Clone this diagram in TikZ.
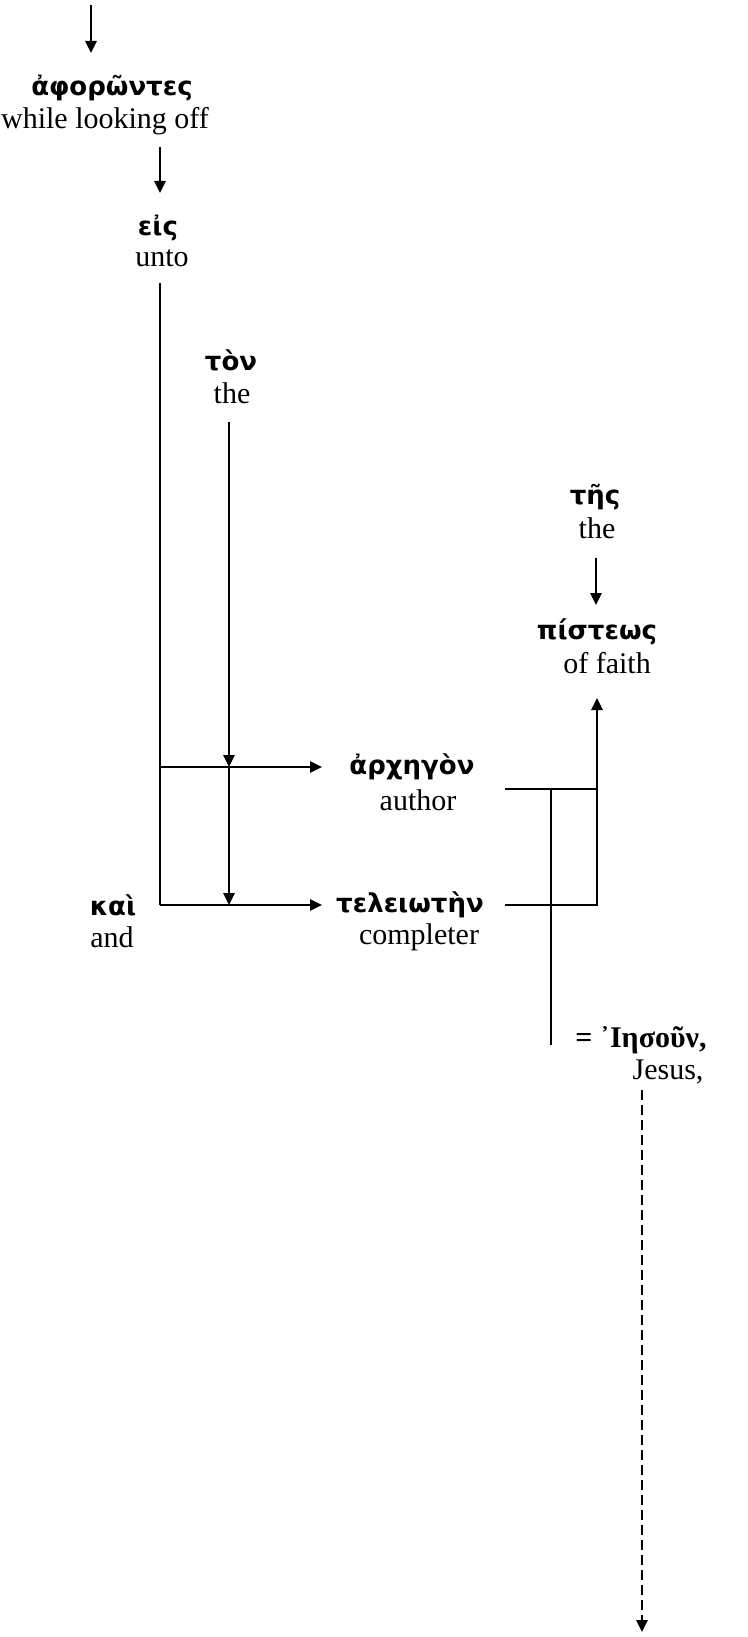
\documentclass[tikz,border=0pt]{standalone}
\usepackage{fontspec}
\setmainfont{Liberation Serif}
\newfontfamily\gkfont{DejaVu Sans}
\usetikzlibrary{arrows.meta}
\begin{document}
\begin{tikzpicture}[x=1pt,y=-1pt,
  gk/.style={font=\gkfont\bfseries\fontsize{26}{30}\selectfont, inner sep=0pt},
  gks/.style={font=\bfseries\fontsize{30}{34}\selectfont, inner sep=0pt},
  en/.style={font=\fontsize{30}{34}\selectfont, inner sep=0pt},
  ln/.style={line width=2.6pt},
  arr/.style={ln,-{Triangle[length=12pt,width=11pt]}},
  dsh/.style={arr,dash pattern=on 10pt off 5pt}]
\useasboundingbox (0,0) rectangle (747,1637);
% words
\node[gk] (aphor) at (112,88) {ἀφορῶντες};
\node[en] (aphorE) at (105,121) {while looking off};
\node[gk] (eis) at (158,228) {εἰς};
\node[en] (eisE) at (162,258) {unto};
\node[gk] (ton) at (231,360) {τὸν};
\node[en] (tonE) at (232,393) {the};
\node[gk] (tes) at (595,497) {τῆς};
\node[en] (tesE) at (597,528) {the};
\node[gk] (pist) at (597,632) {πίστεως};
\node[en] (pistE) at (607,663) {of faith};
\node[gk] (arch) at (412,767) {ἀρχηγὸν};
\node[en] (archE) at (418,800) {author};
\node[gk] (kai) at (113,905) {καὶ};
\node[en] (kaiE) at (112,937) {and};
\node[gk] (tel) at (410,905) {τελειωτὴν};
\node[en] (telE) at (419,937) {completer};
\node[gks] (ies) at (641,1040) {= ᾿Ιησοῦν,};
\node[en] (iesE) at (668,1072) {Jesus,};
% connector points
\coordinate (a0) at (91,5);
\coordinate (a1) at (91,53);
\coordinate (b0) at (160,147);
\coordinate (b1) at (160,193);
\coordinate (v0) at (160,283);
\coordinate (j1) at (160,767);
\coordinate (j2) at (160,905);
\coordinate (h1) at (322,767);
\coordinate (h2) at (322,905);
\coordinate (t0) at (229,422);
\coordinate (t1) at (229,767);
\coordinate (t2) at (229,905);
\coordinate (s0) at (596,558);
\coordinate (s1) at (596,605);
\coordinate (r1) at (505,789);
\coordinate (r2) at (505,905);
\coordinate (p1) at (597,789);
\coordinate (p2) at (597,905);
\coordinate (p0) at (597,698);
\coordinate (q0) at (551,789);
\coordinate (q1) at (551,1045);
\coordinate (d0) at (642,1090);
\coordinate (d1) at (642,1632);
% connectors
\draw[arr] (a0) -- (a1);
\draw[arr] (b0) -- (b1);
\draw[ln] (v0) -- (j2);
\draw[arr] (j1) -- (h1);
\draw[arr] (j2) -- (h2);
\draw[arr] (t0) -- (t1);
\draw[arr] (t1) -- (t2);
\draw[arr] (s0) -- (s1);
\draw[ln] (r1) -- (p1);
\draw[arr] (r2) -- (p2) -- (p0);
\draw[ln] (q0) -- (q1);
\draw[dsh] (d0) -- (d1);
\end{tikzpicture}
\end{document}
